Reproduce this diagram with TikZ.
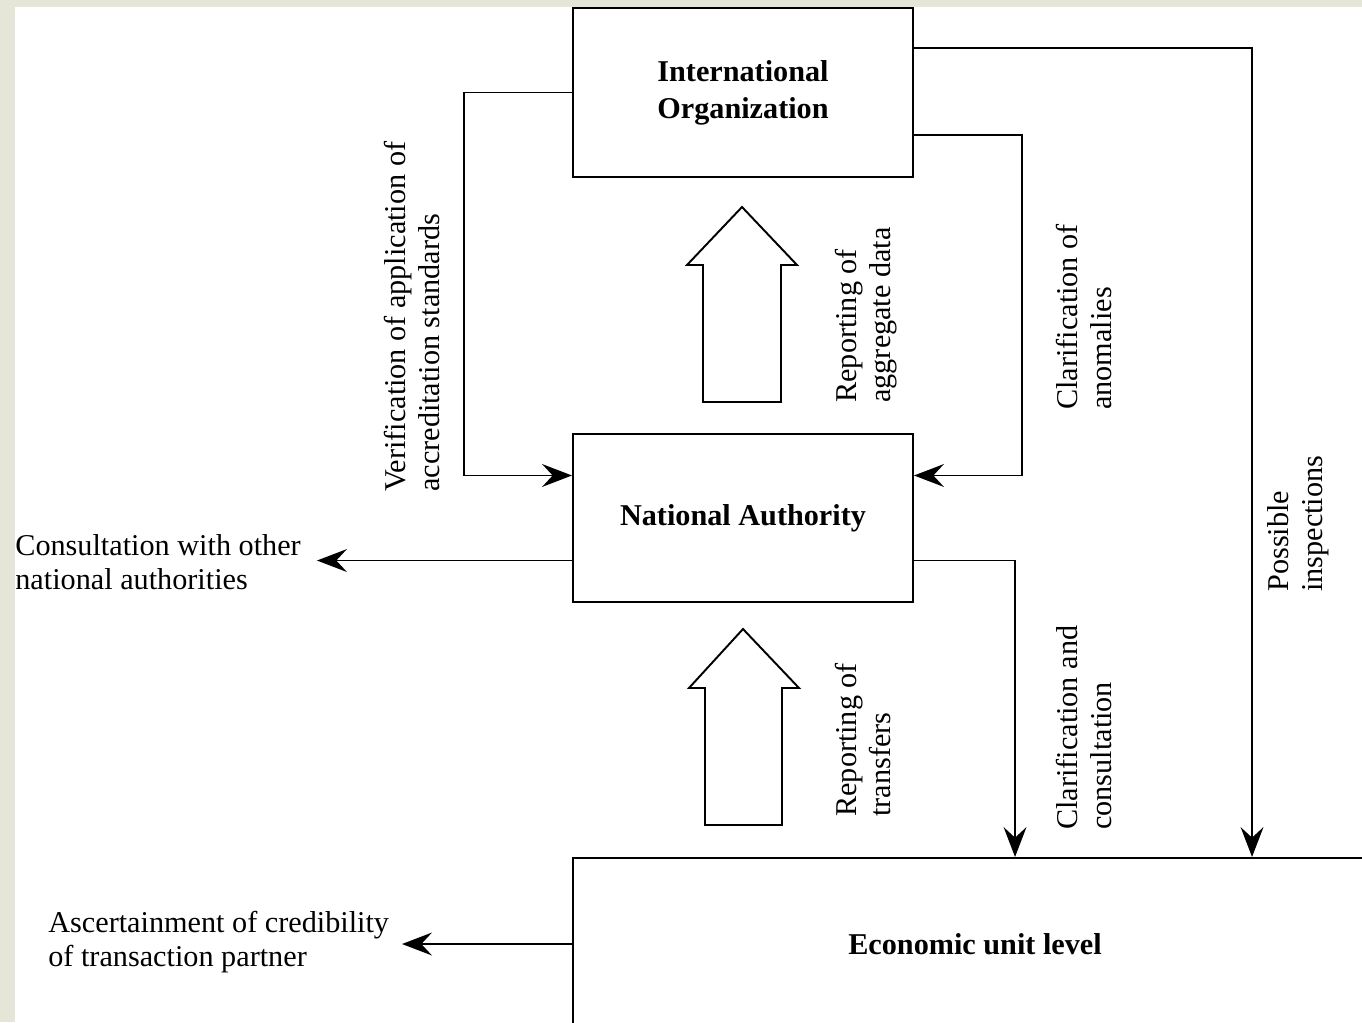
\documentclass[tikz,border=0pt]{standalone}
\usepackage{fontspec}
\setmainfont{Liberation Serif}
\usetikzlibrary{arrows.meta,calc}
\definecolor{paper}{RGB}{229,230,215}
\tikzset{
  box/.style={draw, line width=1.2pt, fill=white, align=center, inner sep=0pt,
    font=\bfseries\fontsize{17.2}{21}\selectfont},
  link/.style={line width=1.1pt, -{Stealth[length=17pt,width=13pt,inset=6pt]}},
  lbl/.style={font=\fontsize{17.2}{19.5}\selectfont, align=left, inner sep=0pt},
  bigarrow/.style={line width=1.1pt, fill=white, line join=miter},
}
\begin{document}
\begin{tikzpicture}[x=0.02cm, y=-0.02cm]
  \useasboundingbox (0,0) rectangle (1362,1022);
  \fill[paper] (0,0) rectangle (1362,1022);
  \fill[white] (15,7) rectangle (1362,1022);

  % Levels
  \node[box, minimum width=6.8cm, minimum height=3.38cm] (io) at (743,92.5) {International\\Organization};
  \node[box, minimum width=6.8cm, minimum height=3.36cm] (na) at (743,518) {National Authority};
  \node[box, minimum width=16.08cm, minimum height=3.44cm] (econ) at (975,944) {Economic unit level};

  % Points on the box sides
  \coordinate (ioR1) at ($(io.north east)!0.24!(io.south east)$);
  \coordinate (ioR2) at ($(io.north east)!0.75!(io.south east)$);
  \coordinate (naL1) at ($(na.north west)!0.25!(na.south west)$);
  \coordinate (naL2) at ($(na.north west)!0.75!(na.south west)$);
  \coordinate (naR1) at ($(na.north east)!0.25!(na.south east)$);
  \coordinate (naR2) at ($(na.north east)!0.75!(na.south east)$);

  % Connectors
  \draw[link] (io.west) -- ++(-108,0) |- (naL1);
  \draw[link] (ioR2) -- ++(108,0) |- (naR1);
  \draw[link] (ioR1) -| ($(econ.north west)+(680,0)$);
  \draw[link] (naR2) -| ($(econ.north west)+(443,0)$);
  \draw[link] (naL2) -- ++(-255,0);
  \draw[link] (econ.west) -- ++(-170,0);

  % Reporting arrows
  \draw[bigarrow] (703,402) -- (703,265) -- (687,265) -- (742,207) -- (797,265) -- (781,265) -- (781,402) -- cycle;
  \draw[bigarrow] (705,825) -- (705,688) -- (689,688) -- (743,629) -- (799,688) -- (782,688) -- (782,825) -- cycle;

  % Labels
  \node[lbl, rotate=90, anchor=west] (verif) at (412,492) {Verification of application of\\accreditation standards};
  \node[lbl, rotate=90, anchor=west] (aggr) at (866,403) {Reporting of\\aggregate data};
  \node[lbl, rotate=90, anchor=west] (anom) at (1084,410) {Clarification of\\anomalies};
  \node[lbl, rotate=90, anchor=west] (insp) at (1298,592) {Possible\\inspections};
  \node[lbl, rotate=90, anchor=west] (trans) at (863,817) {Reporting of\\transfers};
  \node[lbl, rotate=90, anchor=west] (clar) at (1084,830) {Clarification and\\consultation};
  \node[lbl, anchor=west] (consult) at (15,562) {Consultation with other\\national authorities};
  \node[lbl, anchor=west] (ascert) at (48,942) {Ascertainment of credibility\\of transaction partner};
\end{tikzpicture}
\end{document}
